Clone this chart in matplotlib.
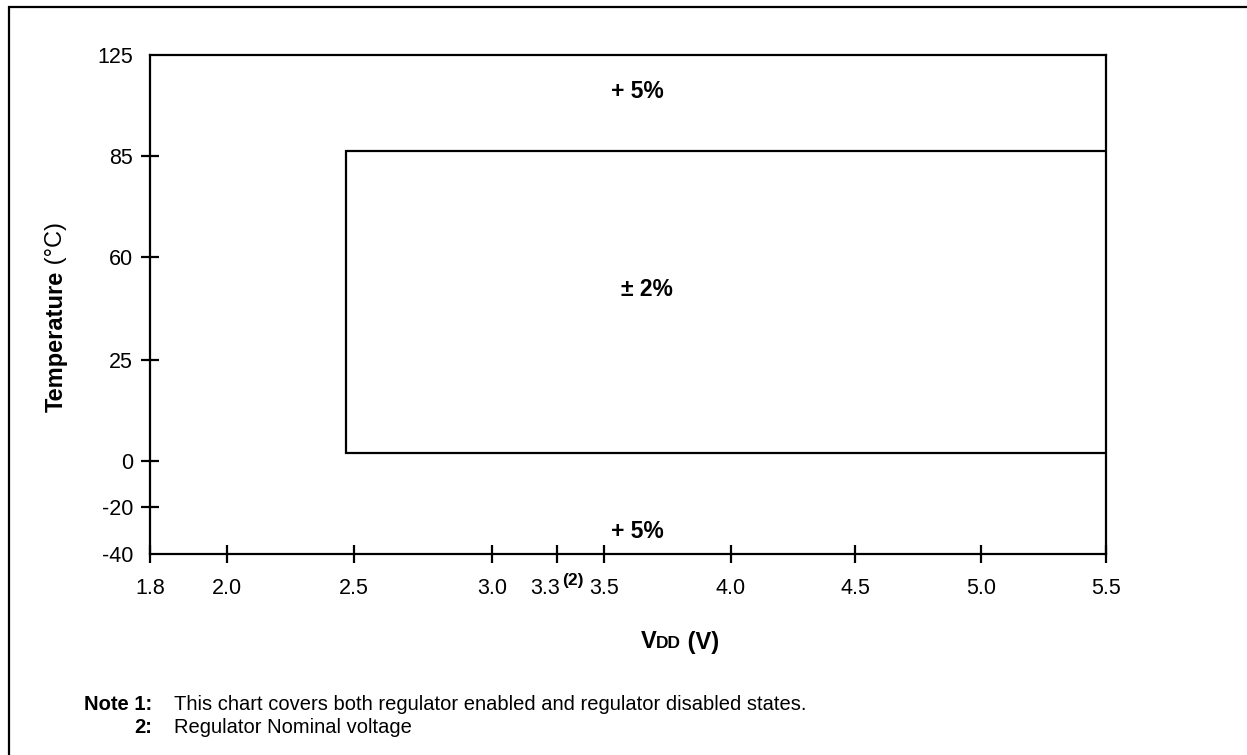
import numpy as np
import matplotlib
matplotlib.use("Agg")
import matplotlib.pyplot as plt
from matplotlib.patches import Rectangle
from matplotlib.offsetbox import TextArea, HPacker, AnchoredOffsetbox

plt.rcParams["font.family"] = ["Liberation Sans", "DejaVu Sans"]

# axis ticks and the uneven spacing the original drawing uses between them
vdd_ticks = [1.8, 2.0, 2.5, 3.0, 3.3, 3.5, 4.0, 4.5, 5.0, 5.5]
vdd_labels = ["1.8", "2.0", "2.5", "3.0", "", "3.5", "4.0", "4.5", "5.0", "5.5"]
vdd_spacing = [0, 77, 204, 342, 407, 454, 581, 705, 831, 956]
temp_ticks = [-40, -20, 0, 25, 60, 85, 125]
temp_labels = ["-40", "-20", "0", "25", "60", "85", "125"]
temp_spacing = [0, 47, 93, 194, 297, 398, 499]

# the +-2% accuracy region
band_vdd = [2.47, 5.5]
band_temp = [2, 87]

zone_text = ["+ 5%", "± 2%", "+ 5%"]
zone_vdd = [3.63, 3.67, 3.63]
zone_temp = [110.7, 48.8, -30.6]

notes = ["This chart covers both regulator enabled and regulator disabled states.",
         "Regulator Nominal voltage"]

W, H = 1247, 755
TICK_FS = 15.5
TICK_LEN = 12.5
XPAD = 11

fig = plt.figure(figsize=(W / 100, H / 100), dpi=100)
ax = fig.add_axes([150 / W, 1 - 554 / H, 956 / W, 499 / H])

ax.set_xscale("function", functions=(lambda v: np.interp(v, vdd_ticks, vdd_spacing),
                                     lambda p: np.interp(p, vdd_spacing, vdd_ticks)))
ax.set_yscale("function", functions=(lambda v: np.interp(v, temp_ticks, temp_spacing),
                                     lambda p: np.interp(p, temp_spacing, temp_ticks)))
ax.set_xlim(vdd_ticks[0], vdd_ticks[-1])
ax.set_ylim(temp_ticks[0], temp_ticks[-1])

# inner box (right edge sits on the frame)
ax.plot([band_vdd[1], band_vdd[0], band_vdd[0], band_vdd[1]],
        [band_temp[1], band_temp[1], band_temp[0], band_temp[0]],
        color="black", lw=1.6, solid_joinstyle="miter")

for t, x, y in zip(zone_text, zone_vdd, zone_temp):
    ax.text(x, y, t, ha="center", va="center", fontsize=16.5, fontweight="bold")

for s in ax.spines.values():
    s.set_linewidth(1.6)

ax.set_xticks(vdd_ticks)
ax.set_xticklabels(vdd_labels)
ax.set_yticks(temp_ticks)
ax.set_yticklabels(temp_labels)
ax.tick_params(direction="inout", length=TICK_LEN, width=1.6, labelsize=TICK_FS)
ax.tick_params(axis="x", pad=XPAD)
ax.tick_params(axis="y", pad=6)
yt = ax.yaxis.get_major_ticks()
yt[0].tick1line.set_visible(False)
yt[-1].tick1line.set_visible(False)

# 3.3 with its note marker, centred as a pair on the tick
xt = ax.get_xaxis_transform()
ax.annotate("3.3", xy=(3.3, 0), xycoords=xt, xytext=(-8.5, -(TICK_LEN / 2 + XPAD)),
            textcoords="offset points", ha="center", va="top", fontsize=TICK_FS)
ax.annotate("(2)", xy=(3.3, 0), xycoords=xt, xytext=(3.5, -(TICK_LEN / 2 + XPAD) + 3.5),
            textcoords="offset points", ha="left", va="top", fontsize=12.5, fontweight="bold")

# y label: bold word, regular unit
ylab = ax.text(-0.098, 0.426, "Temperature", transform=ax.transAxes, rotation=90,
               ha="center", va="center", fontsize=17, fontweight="bold")
ax.annotate(" (°C)", xy=(0.5, 1), xycoords=ylab, rotation=90,
            ha="center", va="bottom", fontsize=17)

parts = [TextArea("V", textprops=dict(fontsize=17, fontweight="bold")),
         TextArea("DD", textprops=dict(fontsize=12.5, fontweight="bold")),
         TextArea(" (V)", textprops=dict(fontsize=17, fontweight="bold"))]
xlab = AnchoredOffsetbox(loc="center", child=HPacker(children=parts, align="baseline", pad=0, sep=0),
                         frameon=False, bbox_to_anchor=(680 / W, 1 - 642 / H),
                         bbox_transform=fig.transFigure, borderpad=0, pad=0)
ax.add_artist(xlab)

# notes
NOTE_FS = 14.5
fig.text(152 / W, 1 - 710 / H, "Note 1:", ha="right", va="baseline", fontsize=NOTE_FS, fontweight="bold")
fig.text(174 / W, 1 - 710 / H, notes[0], ha="left", va="baseline", fontsize=NOTE_FS)
fig.text(152 / W, 1 - 733 / H, "2:", ha="right", va="baseline", fontsize=NOTE_FS, fontweight="bold")
fig.text(174 / W, 1 - 733 / H, notes[1], ha="left", va="baseline", fontsize=NOTE_FS)

# outer frame, open to the right and bottom like the source
fig.patches.append(Rectangle((9 / W, -0.5), 5, 1.5 - 7 / H, transform=fig.transFigure,
                             fill=False, lw=1.6, color="black"))

fig.savefig("out.png", dpi=100)
